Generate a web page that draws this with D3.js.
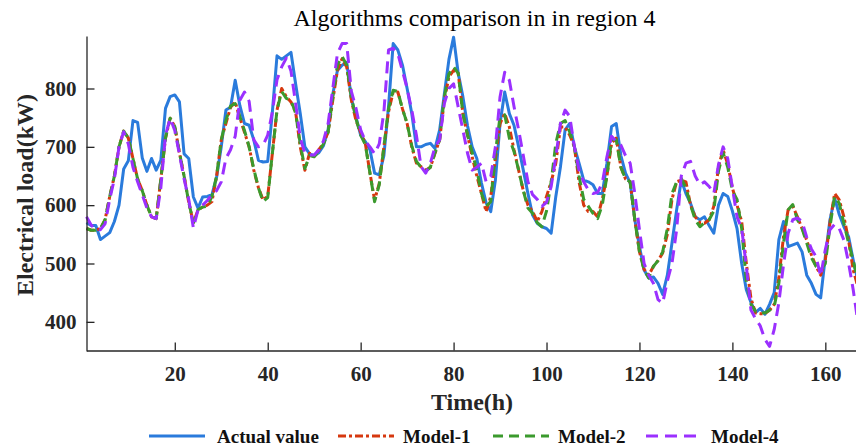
<!DOCTYPE html>
<html>
<head>
<meta charset="utf-8">
<script src="https://cdn.jsdelivr.net/npm/d3@7"></script>
<style>
  html, body { margin: 0; padding: 0; background: #fff; }
  svg { display: block; }
</style>
</head>
<body>
<div id="chart"></div>
<script>
// hourly load, h = 1..168
const actual = [
  570, 565, 565, 541, 547, 553, 572, 600, 662, 676, 745, 742, 681, 658, 680, 660, 677, 766, 786, 789,
  777, 688, 680, 614, 595, 614, 615, 618, 648, 700, 763, 768, 814, 771, 740, 737, 712, 677, 674, 675,
  760, 856, 850, 856, 862, 808, 757, 700, 688, 685, 690, 702, 730, 790, 831, 840, 845, 783, 751, 720,
  709, 695, 655, 652, 685, 769, 877, 866, 840, 800, 757, 700, 700, 704, 706, 697, 729, 790, 850, 888,
  826, 786, 736, 700, 680, 638, 604, 589, 643, 740, 794, 757, 737, 700, 660, 620, 583, 569, 563, 560,
  552, 615, 666, 729, 740, 700, 672, 643, 640, 635, 620, 620, 672, 735, 740, 685, 655, 638, 575, 529,
  489, 475, 477, 466, 447, 480, 535, 592, 643, 620, 603, 580, 575, 580, 565, 552, 600, 620, 615, 590,
  560, 500, 455, 433, 416, 423, 413, 430, 450, 541, 572, 529, 532, 535, 520, 480, 466, 447, 441, 512,
  575, 612, 584, 563, 546, 506, 470, 450
]
const model1 = [
  560, 557, 557, 560, 575, 615, 650, 700, 727, 715, 680, 645, 625, 600, 580, 577, 645, 715, 749, 735,
  690, 650, 605, 570, 592, 597, 600, 606, 650, 712, 740, 768, 777, 750, 725, 700, 660, 630, 609, 615,
  689, 763, 800, 786, 777, 760, 700, 660, 689, 684, 695, 706, 725, 780, 831, 851, 837, 780, 745, 725,
  706, 655, 609, 637, 700, 760, 794, 794, 765, 740, 700, 672, 666, 660, 665, 689, 712, 780, 820, 831,
  826, 757, 720, 683, 650, 620, 589, 615, 680, 740, 757, 734, 695, 660, 625, 600, 589, 572, 589, 615,
  640, 672, 734, 734, 720, 700, 640, 600, 589, 589, 580, 610, 650, 706, 715, 665, 645, 640, 575, 520,
  490, 480, 495, 505, 518, 550, 610, 640, 643, 640, 600, 580, 570, 569, 575, 598, 666, 695, 670, 630,
  600, 572, 500, 440, 415, 414, 414, 420, 430, 475, 546, 592, 598, 580, 560, 540, 515, 495, 480, 506,
  570, 620, 609, 580, 540, 489, 460, 440
]
const model2 = [
  560, 557, 557, 560, 575, 615, 650, 700, 727, 715, 680, 645, 625, 600, 580, 577, 645, 715, 749, 735,
  690, 650, 605, 570, 592, 597, 598, 615, 650, 712, 745, 770, 774, 752, 728, 700, 662, 630, 606, 613,
  689, 763, 795, 783, 780, 758, 705, 663, 685, 683, 692, 705, 725, 785, 840, 855, 840, 785, 748, 720,
  704, 655, 606, 635, 700, 765, 797, 795, 765, 740, 702, 675, 665, 658, 665, 690, 712, 785, 825, 837,
  826, 757, 720, 690, 660, 620, 598, 606, 690, 752, 755, 715, 692, 660, 625, 595, 586, 570, 563, 590,
  640, 706, 740, 745, 725, 700, 650, 610, 598, 586, 577, 600, 650, 712, 712, 665, 645, 640, 575, 520,
  489, 475, 495, 505, 520, 560, 620, 640, 646, 630, 600, 575, 563, 570, 575, 590, 658, 690, 665, 625,
  610, 560, 470, 430, 418, 416, 415, 420, 426, 466, 535, 592, 601, 575, 560, 535, 510, 495, 489, 500,
  563, 615, 603, 569, 535, 505, 470, 450
]
const model4 = [
  580, 566, 558, 558, 568, 610, 645, 700, 726, 705, 665, 640, 618, 595, 580, 577, 630, 720, 749, 728,
  687, 645, 610, 561, 592, 600, 608, 618, 625, 640, 680, 695, 718, 780, 794, 778, 712, 700, 703, 720,
  760, 815, 837, 852, 830, 775, 715, 689, 686, 686, 695, 710, 740, 800, 860, 877, 877, 795, 766, 729,
  710, 700, 688, 705, 760, 866, 869, 860, 830, 800, 763, 720, 666, 655, 672, 700, 712, 774, 800, 808,
  768, 729, 689, 660, 665, 672, 640, 649, 700, 786, 828, 814, 769, 729, 685, 640, 618, 610, 598, 605,
  632, 683, 740, 763, 752, 700, 660, 640, 626, 620, 622, 638, 683, 718, 709, 703, 685, 672, 620, 558,
  500, 480, 466, 438, 432, 470, 500, 558, 650, 672, 675, 650, 635, 640, 632, 620, 669, 700, 680, 630,
  580, 560, 495, 420, 405, 393, 370, 358, 387, 433, 498, 552, 575, 578, 572, 545, 525, 512, 478, 524,
  558, 567, 560, 540, 501, 455, 400, 380
]
const hours = d3.range(1, actual.length + 1)

const yTicks = [400, 500, 600, 700, 800]
const xTicks = [20, 40, 60, 80, 100, 120, 140, 160]

const seriesNames = ["Actual value", "Model-1", "Model-2", "Model-4"]
const seriesColors = ["#2a7bdc", "#d6380f", "#3b9a2d", "#9b30ff"]
const seriesDash = [null, "8,3,3,3", "10,6", "12,7"]
const seriesData = [actual, model1, model2, model4]

const width = 856
const height = 446
const serif = "'Times New Roman', 'Liberation Serif', serif"
const axisColor = "#262626"

const x = d3.scaleLinear().domain([1, 168]).range([86.5, 862.5])
const y = d3.scaleLinear().domain([350, 890]).range([351, 36])

const svg = d3.select("#chart")
  .append("svg")
  .attr("width", width)
  .attr("height", height)
  .attr("viewBox", [0, 0, width, height])

// Title
svg.append("text")
  .attr("x", 474.5)
  .attr("y", 26)
  .attr("text-anchor", "middle")
  .attr("font-family", serif)
  .attr("font-size", "24px")
  .attr("fill", "#000")
  .text("Algorithms comparison in in region 4")

// Lines
const line = d3.line()
  .x((d, i) => x(hours[i]))
  .y(d => y(d))

seriesData.forEach((vals, k) => {
  svg.append("path")
    .datum(vals)
    .attr("fill", "none")
    .attr("stroke", seriesColors[k])
    .attr("stroke-width", 3)
    .attr("stroke-linejoin", "round")
    .attr("stroke-dasharray", seriesDash[k])
    .attr("d", line)
})

// Axes (ticks inside, box off)
const xAxis = d3.axisBottom(x)
  .tickValues(xTicks)
  .tickSizeInner(-8)
  .tickSizeOuter(0)
  .tickPadding(16)

const yAxis = d3.axisLeft(y)
  .tickValues(yTicks)
  .tickSizeInner(-8)
  .tickSizeOuter(0)
  .tickPadding(10)

const gx = svg.append("g")
  .attr("transform", `translate(0,${y(350) - 0.5})`)
  .call(xAxis)

const gy = svg.append("g")
  .attr("transform", `translate(${x(1)},0)`)
  .call(yAxis)

;[gx, gy].forEach(g => {
  g.select(".domain").attr("stroke", axisColor).attr("stroke-width", 1.3)
  g.selectAll(".tick line").attr("stroke", axisColor).attr("stroke-width", 1.3)
  g.selectAll(".tick text")
    .attr("font-family", serif)
    .attr("font-size", "21px")
    .attr("font-weight", "bold")
    .attr("fill", axisColor)
})

// Axis labels
svg.append("text")
  .attr("x", 472)
  .attr("y", 410)
  .attr("text-anchor", "middle")
  .attr("font-family", serif)
  .attr("font-size", "24px")
  .attr("font-weight", "bold")
  .attr("fill", axisColor)
  .text("Time(h)")

svg.append("text")
  .attr("transform", "translate(33,195) rotate(-90)")
  .attr("text-anchor", "middle")
  .attr("font-family", serif)
  .attr("font-size", "24px")
  .attr("font-weight", "bold")
  .attr("fill", axisColor)
  .text("Electrical load(kW)")

// Legend
const legendX = [149, 338, 493, 646]
const legend = svg.append("g")
  .selectAll("g")
  .data(seriesNames)
  .enter()
  .append("g")
  .attr("transform", (d, i) => `translate(${legendX[i]},436)`)

legend.append("line")
  .attr("x1", 0)
  .attr("x2", 56)
  .attr("stroke", (d, i) => seriesColors[i])
  .attr("stroke-width", 3)
  .attr("stroke-dasharray", (d, i) => seriesDash[i])

legend.append("text")
  .attr("x", (d, i) => i === 0 ? 68 : 65)
  .attr("y", 6.5)
  .attr("font-family", serif)
  .attr("font-size", "19px")
  .attr("font-weight", "bold")
  .attr("fill", "#111")
  .text(d => d)
</script>
</body>
</html>
